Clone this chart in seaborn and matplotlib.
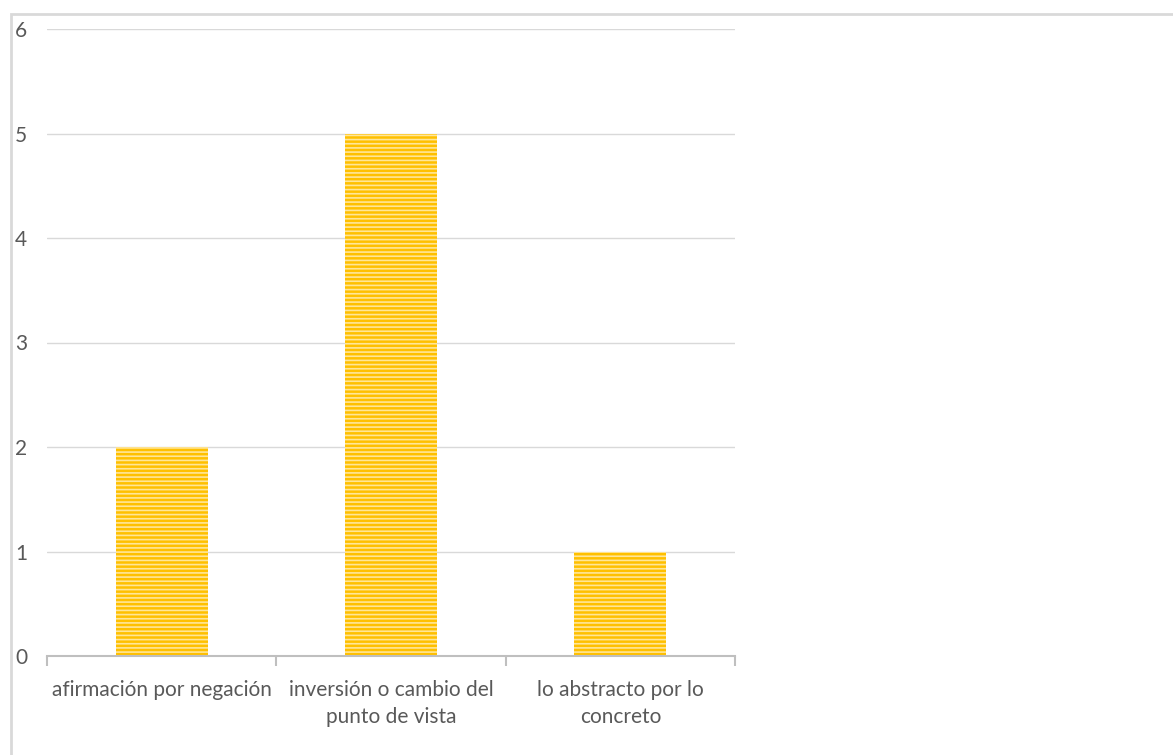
import matplotlib
matplotlib.use("Agg")
import matplotlib.pyplot as plt
import seaborn as sns
import pandas as pd
from matplotlib.patches import Rectangle

categories = ["afirmación por negación", "inversión o cambio del punto de vista", "lo abstracto por lo concreto"]
tick_labels = ["afirmación por negación", "inversión o cambio del\npunto de vista", "lo abstracto por lo\nconcreto"]
values = [2, 5, 1]
y_ticks = [0, 1, 2, 3, 4, 5, 6]

sns.set_style("white")
plt.rcParams["font.family"] = ["Lato", "DejaVu Sans"]
plt.rcParams["hatch.linewidth"] = 1.2

df = pd.DataFrame({"cat": categories, "val": values})

fig = plt.figure(figsize=(11.73, 7.55), dpi=100)
ax = fig.add_axes([47 / 1173, 1 - 656 / 755, (735 - 47) / 1173, (656 - 29) / 755])

# chart frame
fig.patches.append(Rectangle((11 / 1173, -0.1), 1.2, 1 - 14 / 755 + 0.1,
                             transform=fig.transFigure, fill=False,
                             edgecolor="#D9D9D9", linewidth=2, zorder=0))

sns.barplot(data=df, x="cat", y="val", color="#FFC000", width=0.4,
            edgecolor="#FFE699", linewidth=0, hatch="----", saturation=1, ax=ax)

ax.set_ylim(0, 6)
ax.set_xlim(-0.5, 2.5)
ax.set_yticks(y_ticks)
ax.yaxis.grid(True, color="#D9D9D9", linewidth=1)
ax.set_axisbelow(True)
for s in ["left", "right", "top"]:
    ax.spines[s].set_visible(False)
ax.spines["bottom"].set_color("#BFBFBF")
ax.spines["bottom"].set_linewidth(1.5)

ax.set_xticks([0, 1, 2])
ax.set_xticklabels(tick_labels, linespacing=1.45)
ax.set_xticks([-0.5, 0.5, 1.5, 2.5], minor=True)
ax.tick_params(axis="x", which="major", length=0, pad=17, labelsize=15, labelcolor="#595959")
ax.tick_params(axis="x", which="minor", bottom=True, length=7, width=1.5,
               color="#BFBFBF", direction="out")
ax.tick_params(axis="y", length=0, pad=23, labelsize=15, labelcolor="#595959")
for lbl in ax.get_yticklabels():
    lbl.set_horizontalalignment("left")
ax.set_xlabel("")
ax.set_ylabel("")

fig.savefig("out.png", dpi=100)
